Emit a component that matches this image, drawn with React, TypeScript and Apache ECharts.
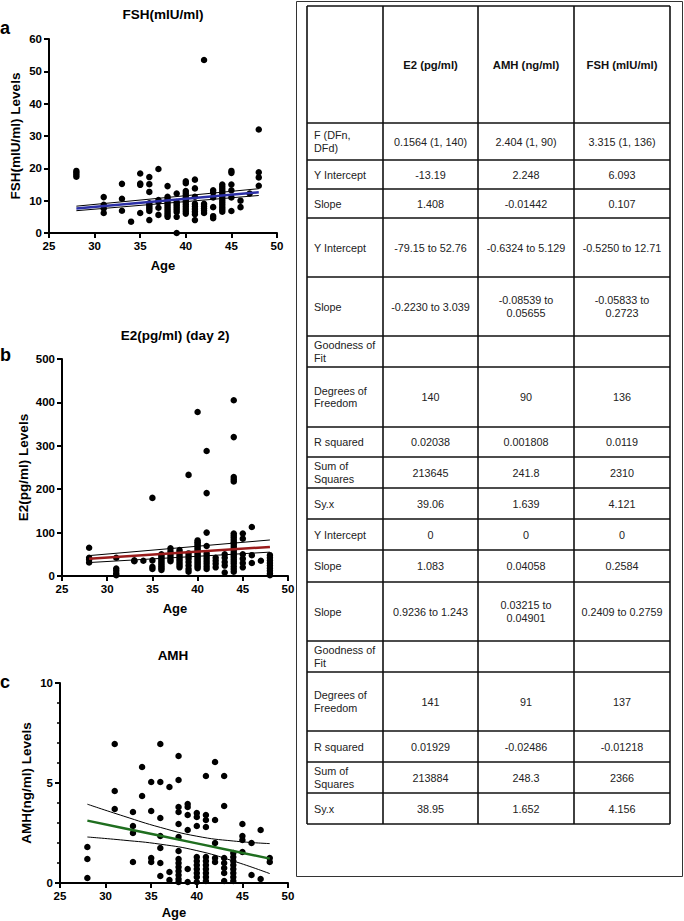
import React, { useEffect, useRef } from "react";
import * as echarts from "echarts";

// ---------- Scatter data (age -> measured values) ----------
const fshByAge: [number, number[]][] = [
  [28, [19.2, 18.6, 18.0, 17.4]],
  [31, [11.1, 8.7, 7.6, 6.2]],
  [33, [15.2, 10.6, 6.9]],
  [34, [3.5]],
  [35, [18.4, 15.3, 14.9, 6.2]],
  [36, [17.3, 15.1, 12.7, 9.2, 8.6, 8.0, 7.4, 6.8, 4.0]],
  [37, [19.8, 10.2, 9.6, 7.8, 5.6]],
  [38, [14.5, 11.2, 10.5, 9.8, 9.1, 8.4, 7.7, 7.0, 6.3, 5.6, 5.0]],
  [39, [12.2, 9.6, 9.0, 8.4, 7.8, 7.2, 6.5, 5.0, 0]],
  [40, [16.0, 15.4, 13.0, 12.3, 11.6, 10.9, 10.2, 9.5, 8.8, 8.1, 7.4, 6.7, 6.0]],
  [41, [16.5, 13.8, 11.2, 9.0, 8.2, 7.4, 6.6, 5.8, 4.0]],
  [42, [53.5, 9.0, 8.3, 7.6, 6.9, 6.2]],
  [43, [13.2, 12.5, 11.0, 8.0, 5.2, 4.6]],
  [44, [15.0, 14.3, 13.6, 12.9, 12.2, 11.5, 10.8, 10.1, 9.4, 8.7, 8.0, 7.3, 6.6]],
  [45, [19.2, 18.6, 15.0, 13.2, 11.0, 6.8]],
  [46, [10.0, 8.0]],
  [47, [12.2]],
  [48, [32, 18.8, 17.2, 14.6]],
];

const e2ByAge: [number, number[]][] = [
  [28, [65, 42, 38, 31]],
  [31, [42, 17, 12, 6, 2]],
  [33, [36, 34]],
  [34, [35]],
  [35, [180, 36, 21, 16]],
  [36, [50, 46, 42, 38, 34, 30, 26, 22, 18, 14]],
  [37, [64, 57, 50, 44, 38, 34]],
  [38, [60, 55, 50, 45, 40, 35, 30, 25, 20]],
  [39, [233, 52, 46, 40, 32, 24, 16, 10]],
  [40, [378, 82, 78, 74, 70, 66, 62, 58, 54, 50, 46, 42, 38, 34, 30, 26, 22, 18]],
  [41, [288, 191, 100, 69, 52, 46, 40, 34, 28, 22, 16]],
  [42, [42, 35, 28, 20]],
  [43, [50, 42, 32, 24, 8]],
  [44, [405, 320, 228, 223, 218, 98, 93, 88, 83, 78, 73, 68, 63, 58, 53, 48, 43, 38, 33, 28, 22, 16, 10]],
  [45, [98, 86, 50, 40, 30, 20]],
  [46, [113, 48, 30]],
  [47, [35]],
  [48, [48, 42, 36, 30, 24, 18, 12, 6, 2]],
];

const amhByAge: [number, number[]][] = [
  [28, [1.8, 1.2, 0.25]],
  [31, [6.95, 4.6, 3.7]],
  [33, [3.55, 2.85, 2.5, 1.05]],
  [34, [5.8, 4.35]],
  [35, [5.05, 3.6, 1.25, 1.05]],
  [36, [6.95, 5.05, 3.25, 2.35, 1.75, 1.0, 0.35]],
  [37, [4.8, 0.55, 0.15]],
  [38, [6.35, 5.15, 3.8, 3.55, 2.95, 2.3, 1.6, 1.2, 1.0, 0.8, 0.6, 0.4, 0.2, 0.05]],
  [39, [3.95, 3.8, 3.4, 2.65, 0.7, 0.05]],
  [40, [3.5, 3.3, 2.85, 1.3, 1.1, 0.9, 0.7, 0.5, 0.3, 0.05]],
  [41, [5.35, 3.4, 3.15, 2.8, 1.3, 1.1, 0.9, 0.7, 0.5, 0.3, 0.1]],
  [42, [6.05, 3.15, 2.0, 1.25, 1.05]],
  [43, [5.35, 3.85, 1.25, 1.0, 0.75, 0.5, 0.1]],
  [44, [1.5, 1.3, 1.1, 0.9, 0.7, 0.5, 0.3, 0.1]],
  [45, [2.95, 2.35, 2.15, 1.55]],
  [46, [2.0, 0.4]],
  [47, [2.65, 0.2]],
  [48, [1.25, 1.05]],
];

// ---------- Regression lines and confidence bands ----------
const fshFitAges = [28, 48];
const fshFit = [7.6, 12.6];
const fshUpper = [8.3, 13.7];
const fshLower = [6.9, 11.6];

const e2FitAges = [28, 48];
const e2Fit = [40, 67];
const e2Upper = [47, 83];
const e2Lower = [31, 55];

const amhFitAges = [28, 32, 36, 40, 44, 48];
const amhFit = [3.12, 2.74, 2.36, 1.98, 1.6, 1.22];
const amhUpper = [3.94, 3.34, 2.78, 2.34, 2.1, 1.97];
const amhLower = [2.3, 2.14, 1.94, 1.62, 1.1, 0.47];

// ---------- Table data ----------
const tableHeaders = ["", "E2 (pg/ml)", "AMH (ng/ml)", "FSH (mIU/ml)"];
const rowLabels = [
  "F (DFn,\nDFd)", "Y Intercept", "Slope", "Y Intercept", "Slope", "Goodness of\nFit",
  "Degrees of\nFreedom", "R squared", "Sum of\nSquares", "Sy.x", "Y Intercept", "Slope",
  "Slope", "Goodness of\nFit", "Degrees of\nFreedom", "R squared", "Sum of\nSquares", "Sy.x",
];
const e2Column = [
  "0.1564 (1, 140)", "-13.19", "1.408", "-79.15 to 52.76", "-0.2230 to 3.039", "",
  "140", "0.02038", "213645", "39.06", "0", "1.083",
  "0.9236 to 1.243", "", "141", "0.01929", "213884", "38.95",
];
const amhColumn = [
  "2.404 (1, 90)", "2.248", "-0.01442", "-0.6324 to 5.129", "-0.08539 to\n0.05655", "",
  "90", "0.001808", "241.8", "1.639", "0", "0.04058",
  "0.03215 to\n0.04901", "", "91", "-0.02486", "248.3", "1.652",
];
const fshColumn = [
  "3.315 (1, 136)", "6.093", "0.107", "-0.5250 to 12.71", "-0.05833 to\n0.2723", "",
  "136", "0.0119", "2310", "4.121", "0", "0.2584",
  "0.2409 to 0.2759", "", "137", "-0.01218", "2366", "4.156",
];

const FONT = "'Liberation Sans', Arial, Helvetica, sans-serif";

const toPoints = (groups: [number, number[]][]) =>
  groups.flatMap(([age, vals]) => vals.map((v) => [age, v]));
const toLine = (ages: number[], vals: number[]) => ages.map((a, i) => [a, vals[i]]);

export default function App() {
  const ref = useRef<HTMLDivElement>(null);

  useEffect(() => {
    if (!ref.current) return;
    const chart = echarts.init(ref.current, undefined, { renderer: "svg" });

    const grids = [
      { left: 49, top: 39, width: 228, height: 194 },
      { left: 62, top: 359, width: 226, height: 217 },
      { left: 60, top: 683, width: 228, height: 200 },
    ];
    const yNames = ["FSH(mIU/ml) Levels", "E2(pg/ml) Levels", "AMH(ng/ml) Levels"];
    const yMax = [60, 500, 10];
    const yInt = [10, 100, 5];
    const yNameGap = [27, 32, 27];
    const xNameGap = [26, 26, 23];

    const axisLine = { show: true, lineStyle: { color: "#000", width: 2 } };
    const axisTick = { show: true, length: 5, lineStyle: { color: "#000", width: 2 } };
    const axisLabel = { color: "#000", fontWeight: "bold", fontSize: 11.5, fontFamily: FONT };

    const xAxis = grids.map((_, i) => ({
      type: "value",
      gridIndex: i,
      min: 25,
      max: 50,
      interval: 5,
      name: "Age",
      nameLocation: "middle",
      nameGap: xNameGap[i],
      nameTextStyle: { color: "#000", fontWeight: "bold", fontSize: 13, fontFamily: FONT },
      axisLine,
      axisTick,
      axisLabel: { ...axisLabel, margin: 7 },
      splitLine: { show: false },
    }));
    const yAxis = grids.map((_, i) => ({
      type: "value",
      gridIndex: i,
      min: 0,
      max: yMax[i],
      interval: yInt[i],
      name: yNames[i],
      nameLocation: "middle",
      nameGap: yNameGap[i],
      nameTextStyle: { color: "#000", fontWeight: "bold", fontSize: 13.5, fontFamily: FONT },
      axisLine,
      axisTick,
      minorTick: i === 2 ? { show: true, splitNumber: 5, length: 3, lineStyle: { color: "#000", width: 1.5 } } : { show: false },
      axisLabel: { ...axisLabel, margin: 7 },
      splitLine: { show: false },
      minorSplitLine: { show: false },
    }));

    const scatter = (data: number[][], i: number) => ({
      type: "scatter",
      xAxisIndex: i,
      yAxisIndex: i,
      data,
      symbolSize: 6.5,
      itemStyle: { color: "#000", opacity: 1 },
      z: 2,
    });
    const line = (data: number[][], i: number, color: string, width: number, smooth: boolean) => ({
      type: "line",
      xAxisIndex: i,
      yAxisIndex: i,
      data,
      symbol: "none",
      smooth,
      lineStyle: { color, width },
      z: 3,
    });

    const series = [
      scatter(toPoints(fshByAge), 0),
      line(toLine(fshFitAges, fshUpper), 0, "#000", 1, false),
      line(toLine(fshFitAges, fshLower), 0, "#000", 1, false),
      line(toLine(fshFitAges, fshFit), 0, "#2b2fa6", 2.5, false),
      scatter(toPoints(e2ByAge), 1),
      line(toLine(e2FitAges, e2Upper), 1, "#000", 1, false),
      line(toLine(e2FitAges, e2Lower), 1, "#000", 1, false),
      line(toLine(e2FitAges, e2Fit), 1, "#9a1b1b", 2.5, false),
      scatter(toPoints(amhByAge), 2),
      line(toLine(amhFitAges, amhUpper), 2, "#000", 1, true),
      line(toLine(amhFitAges, amhLower), 2, "#000", 1, true),
      line(toLine(amhFitAges, amhFit), 2, "#1f6e1f", 2.5, false),
    ];

    // ---------- graphic: titles, panel letters, table ----------
    const graphic: any[] = [];
    const titles = [
      { text: "FSH(mIU/ml)", x: 163, y: 14 },
      { text: "E2(pg/ml) (day 2)", x: 175, y: 335 },
      { text: "AMH", x: 173, y: 655 },
    ];
    titles.forEach((t) =>
      graphic.push({
        type: "text",
        x: t.x,
        y: t.y,
        style: { text: t.text, textAlign: "center", verticalAlign: "middle", fill: "#000", fontWeight: "bold", fontSize: 13.5, fontFamily: FONT },
      })
    );
    const letters = [
      { text: "a", y: 28 },
      { text: "b", y: 355 },
      { text: "c", y: 682 },
    ];
    letters.forEach((l) =>
      graphic.push({
        type: "text",
        x: 0,
        y: l.y,
        style: { text: l.text, textAlign: "left", verticalAlign: "middle", fill: "#000", fontWeight: "bold", fontSize: 18, fontFamily: FONT },
      })
    );

    // outer frame
    graphic.push({
      type: "rect",
      shape: { x: 296.5, y: 1.5, width: 386, height: 875 },
      style: { fill: "none", stroke: "#333", lineWidth: 1 },
    });

    const rowEdges = [6, 123, 160, 189, 218, 277, 336, 367, 427, 457, 488, 519, 550, 582, 641, 672, 731, 762, 793, 824];
    const colEdges = [307, 383, 478, 574, 670];
    rowEdges.forEach((y) =>
      graphic.push({
        type: "line",
        shape: { x1: colEdges[0], y1: y, x2: colEdges[colEdges.length - 1], y2: y },
        style: { stroke: "#111", lineWidth: 1.6 },
      })
    );
    colEdges.forEach((x) =>
      graphic.push({
        type: "line",
        shape: { x1: x, y1: rowEdges[0], x2: x, y2: rowEdges[rowEdges.length - 1] },
        style: { stroke: "#111", lineWidth: 1.6 },
      })
    );
    const colCenter = (c: number) => (colEdges[c] + colEdges[c + 1]) / 2;
    const rowCenter = (r: number) => (rowEdges[r] + rowEdges[r + 1]) / 2;

    tableHeaders.forEach((h, c) => {
      if (!h) return;
      graphic.push({
        type: "text",
        x: colCenter(c),
        y: rowCenter(0),
        style: { text: h, textAlign: "center", verticalAlign: "middle", fill: "#111", fontWeight: "bold", fontSize: 11.3, fontFamily: FONT },
      });
    });
    const cols = [rowLabels, e2Column, amhColumn, fshColumn];
    cols.forEach((colVals, c) => {
      colVals.forEach((txt, r) => {
        if (!txt) return;
        graphic.push({
          type: "text",
          x: c === 0 ? 314 : colCenter(c),
          y: rowCenter(r + 1),
          style: {
            text: txt,
            textAlign: c === 0 ? "left" : "center",
            verticalAlign: "middle",
            fill: "#222",
            fontSize: 10.8,
            lineHeight: 12.5,
            fontFamily: FONT,
          },
        });
      });
    });

    chart.setOption({
      animation: false,
      backgroundColor: "#fff",
      grid: grids.map((g) => ({ ...g, outerBoundsMode: "none" })),
      xAxis,
      yAxis,
      series,
      graphic,
    });

    return () => chart.dispose();
  }, []);

  return (
    <div
      ref={ref}
      style={{ position: "fixed", left: 0, top: 0, width: 684, height: 921, background: "#fff" }}
    />
  );
}
